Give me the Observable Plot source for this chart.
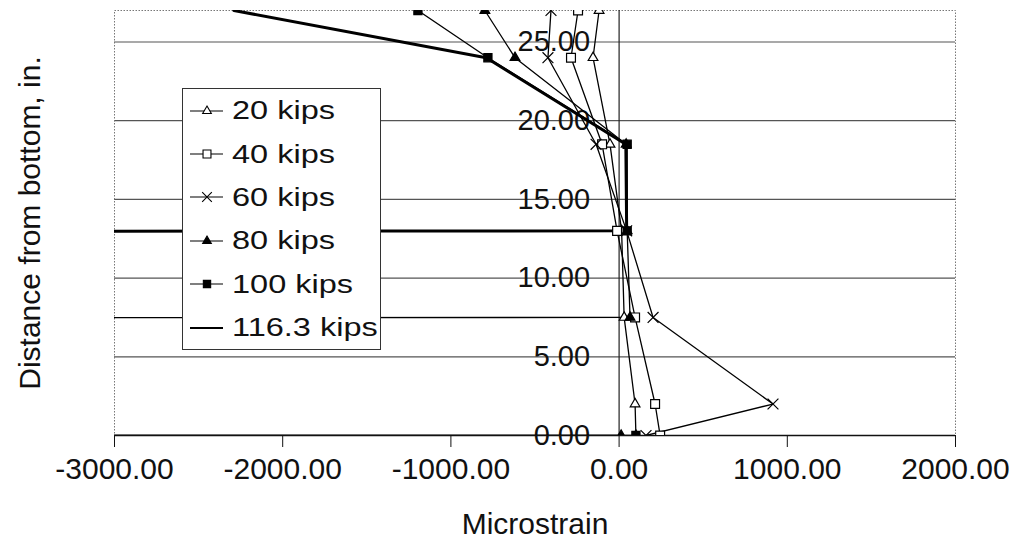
<!DOCTYPE html>
<html><head><meta charset="utf-8">
<script src="https://cdn.jsdelivr.net/npm/d3@7"></script>
<script src="https://cdn.jsdelivr.net/npm/@observablehq/plot@0.6"></script>
<style>
body{margin:0;background:#fff;}
#wrap{position:relative;width:1017px;height:548px;font-family:"Liberation Sans",Arial,sans-serif;}
#legend{position:absolute;left:182px;top:88px;width:199px;height:262px;border:1px solid #333;background:#fff;box-sizing:border-box;}
.row{height:43.4px;display:flex;align-items:center;}
.row svg{margin-left:7px;flex:none;}
.row span{display:inline-block;margin-left:8px;font-size:25px;transform:scaleX(1.3);transform-origin:left center;color:#111;white-space:nowrap;}
</style></head><body><div id="wrap"></div>
<script>
// Sensor heights (in.) from top to bottom
const heights = [27, 24, 18.5, 13, 7.5, 2, 0];
// Off-scale gauge reading (drawn beyond the left edge of the chart)
const OFF = -1e6;
const seriesNames = ["20 kips", "40 kips", "60 kips", "80 kips", "100 kips", "116.3 kips"];
const s20  = [-119, -155, -54, 15, 30, 95, 100];
const s40  = [-244, -286, -101, -12, 95, 214, 244];
const s60  = [-405, -423, -137, 45, 202, 915, 160];
const s80  = [-798, -619, 42, 48, 65, OFF, 12];
const s100 = [-1196, -780, 48, 48, OFF, OFF, 100];
const s116 = [-2290, -790, 40, 45, OFF, OFF, OFF];
const xTicks = [-3000, -2000, -1000, 0, 1000, 2000];
const yTicks = [0, 5, 10, 15, 20, 25];

const allSeries = [s20, s40, s60, s80, s100, s116];
const data = [];
allSeries.forEach((vals, i) => vals.forEach((v, j) => data.push({series: seriesNames[i], x: v, y: heights[j]})));

const markerStyles = {
  "20 kips": {symbol: "triangle", fill: "white", stroke: "black", r: 3.6},
  "40 kips": {symbol: "square", fill: "white", stroke: "black", r: 5},
  "60 kips": {symbol: "times", fill: "none", stroke: "black", r: 5},
  "80 kips": {symbol: "triangle", fill: "black", stroke: "black", r: 3.6},
  "100 kips": {symbol: "square", fill: "black", stroke: "black", r: 4.6}
};

const fmt = d => d.toFixed(2);
const marks = [
  Plot.ruleY(yTicks.filter(d => d > 0), {stroke: "#555", strokeWidth: 1.2}),
  Plot.frame({stroke: "#777", strokeDasharray: "1.5,1.5"}),
  Plot.ruleX([0], {stroke: "#222", strokeWidth: 1.2}),
  Plot.ruleY([0], {stroke: "#111", strokeWidth: 1.5}),
  Plot.text(yTicks, {x: 0, y: d => d, text: d => fmt(d), textAnchor: "end", dx: -29, fontSize: 29, fill: "#111"}),
  Plot.axisX(xTicks, {tickFormat: fmt, tickSize: 12, tickPadding: 10, fontSize: 30, label: "Microstrain", labelArrow: "none", labelAnchor: "center", labelOffset: 98}),
  Plot.axisY([], {label: "Distance from bottom, in.", labelArrow: "none", labelAnchor: "center", labelOffset: 96, fontSize: 30, tickSize: 0}),
  Plot.line(data.filter(d => d.series === "116.3 kips"), {x: "x", y: "y", stroke: "black", strokeWidth: 3, clip: true}),
  Plot.line(data.filter(d => d.series !== "116.3 kips"), {x: "x", y: "y", z: "series", stroke: "black", strokeWidth: 1.3, clip: true})
];
for (const name of seriesNames.slice(0, 5)) {
  const st = markerStyles[name];
  marks.push(Plot.dot(data.filter(d => d.series === name), {x: "x", y: "y", symbol: st.symbol, fill: st.fill, stroke: st.stroke, r: st.r, strokeWidth: 1.2, clip: true}));
}

const chart = Plot.plot({
  width: 1017, height: 548,
  marginLeft: 114, marginRight: 62, marginTop: 10, marginBottom: 113,
  x: {domain: [-3000, 2000], labelArrow: "none"},
  y: {domain: [0, 27], labelArrow: "none"},
  style: {fontFamily: "'Liberation Sans', Arial, sans-serif", fontSize: "30px", color: "#111", background: "white"},
  marks
});
const wrap = document.getElementById("wrap");
wrap.appendChild(chart);

// Legend
const legend = document.createElement("div");
legend.id = "legend";
for (const name of seriesNames) {
  const row = document.createElement("div");
  row.className = "row";
  const svg = d3.create("svg").attr("width", 34).attr("height", 16);
  svg.append("line").attr("x1", 0).attr("x2", 33).attr("y1", 8).attr("y2", 8).attr("stroke", "black").attr("stroke-width", name === "116.3 kips" ? 2.2 : 1.2);
  const st = markerStyles[name];
  if (st) {
    const symMap = {triangle: d3.symbolTriangle, square: d3.symbolSquare, times: d3.symbolTimes};
    svg.append("path").attr("transform", "translate(17,8)")
      .attr("d", d3.symbol(symMap[st.symbol], Math.PI * st.r * st.r * 0.8)())
      .attr("fill", st.fill).attr("stroke", st.stroke).attr("stroke-width", 1.1);
  }
  row.appendChild(svg.node());
  const span = document.createElement("span");
  span.textContent = name;
  row.appendChild(span);
  legend.appendChild(row);
}
wrap.appendChild(legend);
</script></body></html>
